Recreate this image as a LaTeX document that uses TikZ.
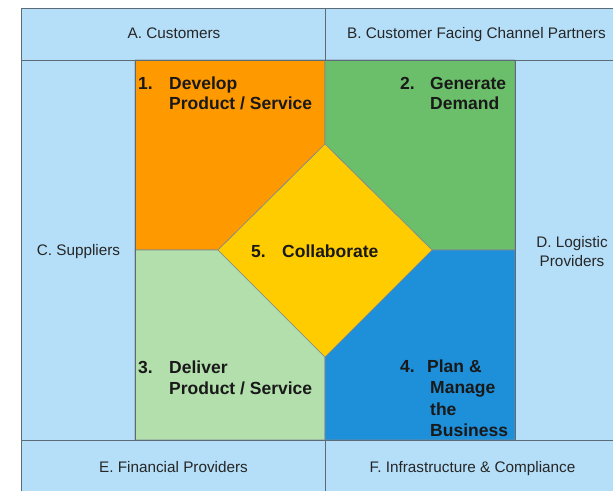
\documentclass[tikz,border=0pt]{standalone}
\usepackage{fontspec}
\setmainfont{Liberation Sans}
\definecolor{bandblue}{HTML}{B5DFF8}
\definecolor{orangeA}{HTML}{FF9900}
\definecolor{greenA}{HTML}{6CBF6A}
\definecolor{lgreenA}{HTML}{B2DFAC}
\definecolor{blueA}{HTML}{1E8FD9}
\definecolor{yellowA}{HTML}{FFCC00}
\definecolor{frameline}{HTML}{5C6B78}
\tikzset{
  frame/.style={draw=frameline, line width=0.9pt},
  region/.style={draw=frameline!80, line width=0.6pt, line join=round},
  bandtext/.style={inner sep=0pt, anchor=base, font=\fontsize{15.3}{19}\selectfont, text=black!85},
  boldtext/.style={inner sep=0pt, anchor=base west, font=\fontsize{17.5}{21}\selectfont\bfseries, text=black!90}
}
\begin{document}
\begin{tikzpicture}[x=1pt,y=-1pt]
\useasboundingbox (0,0) rectangle (613,491);
% background bands
\fill[bandblue] (21,8) rectangle (613,491);
% coloured regions
\coordinate (dT) at (325,144);
\coordinate (dR) at (432,250);
\coordinate (dB) at (325,357);
\coordinate (dL) at (218,250);
\filldraw[region, fill=orangeA] (135,60) -- (325,60) -- (dT) -- (dL) -- (135,250) -- cycle;
\filldraw[region, fill=greenA] (325,60) -- (515,60) -- (515,250) -- (dR) -- (dT) -- cycle;
\filldraw[region, fill=lgreenA] (135,250) -- (dL) -- (dB) -- (325,440) -- (135,440) -- cycle;
\filldraw[region, fill=blueA] (dR) -- (515,250) -- (515,440) -- (325,440) -- (dB) -- cycle;
\filldraw[region, fill=yellowA] (dT) -- (dR) -- (dB) -- (dL) -- cycle;
% frame lines
\draw[frame] (21,491) -- (21,8) -- (613,8);
\draw[frame] (21,60) -- (613,60);
\draw[frame] (21,440) -- (613,440);
\draw[frame] (325,8) -- (325,60);
\draw[frame] (325,440) -- (325,491);
\draw[frame] (135,60) -- (135,440);
\draw[frame] (515,60) -- (515,440);
% band texts
\node[bandtext] (tA) at (174,38.5) {A. Customers};
\node[bandtext] (tB) at (476.5,38.5) {B. Customer Facing Channel Partners};
\node[bandtext] (tC) at (78.5,255.5) {C. Suppliers};
\node[bandtext] (tD1) at (572,247.5) {D. Logistic};
\node[bandtext] (tD2) at (572,266.5) {Providers};
\node[bandtext] (tE) at (173.5,472.5) {E. Financial Providers};
\node[bandtext] (tF) at (472.5,472.5) {F. Infrastructure \& Compliance};
% region texts
\node[boldtext] (n1) at (138,89) {1.};
\node[boldtext] (n1a) at (169,89) {Develop};
\node[boldtext] (n1b) at (169,109) {Product / Service};
\node[boldtext] (n2) at (400,89) {2.};
\node[boldtext] (n2a) at (430,89) {Generate};
\node[boldtext] (n2b) at (430,109) {Demand};
\node[boldtext] (n3) at (138,373) {3.};
\node[boldtext] (n3a) at (169,373) {Deliver};
\node[boldtext] (n3b) at (169,394) {Product / Service};
\node[boldtext] (n4) at (400,372) {4.};
\node[boldtext] (n4a) at (427,372) {Plan \&};
\node[boldtext] (n4b) at (430,393) {Manage};
\node[boldtext] (n4c) at (430,415) {the};
\node[boldtext] (n4d) at (430,436) {Business};
\node[boldtext] (n5) at (251,257) {5.};
\node[boldtext] (n5a) at (282,257) {Collaborate};
\end{tikzpicture}
\end{document}
